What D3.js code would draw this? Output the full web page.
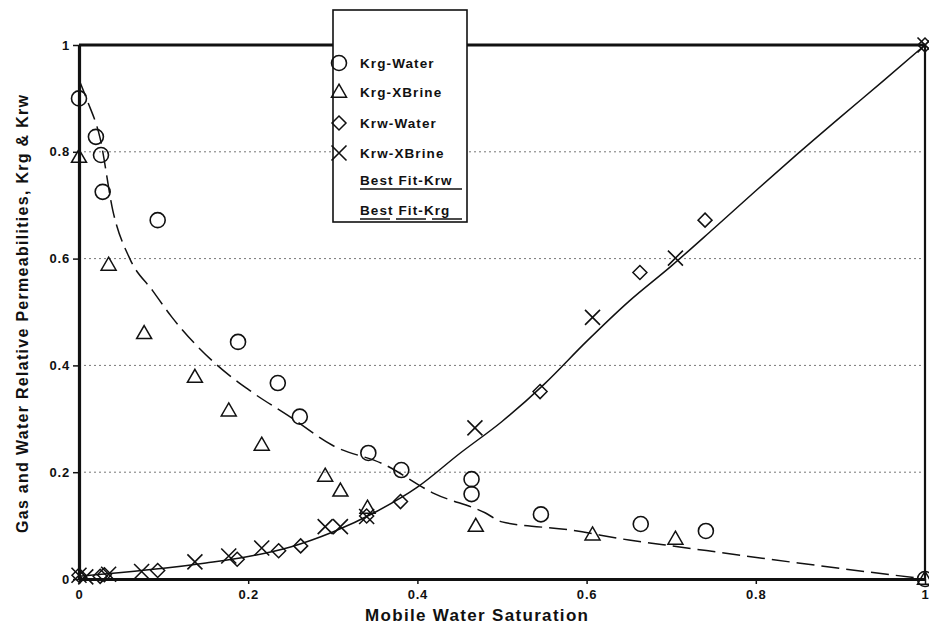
<!DOCTYPE html>
<html><head><meta charset="utf-8">
<script src="https://cdn.jsdelivr.net/npm/d3@7"></script>
<style>body{margin:0;background:#fff}svg{display:block}text{font-family:"Liberation Sans",Arial,sans-serif;font-weight:bold;fill:#111}</style>
</head><body><svg id="c" width="929" height="625"></svg>
<script>
// ---- data ----
const krgWaterX = [0, 0.02, 0.026, 0.028, 0.093, 0.188, 0.235, 0.261, 0.342, 0.381, 0.464, 0.464, 0.546, 0.664, 0.741, 1];
const krgWaterY = [0.90, 0.828, 0.794, 0.725, 0.672, 0.444, 0.367, 0.304, 0.236, 0.204, 0.187, 0.159, 0.121, 0.103, 0.090, 0];
const krgBrineX = [0, 0.035, 0.077, 0.137, 0.177, 0.216, 0.291, 0.309, 0.341, 0.469, 0.607, 0.705, 1];
const krgBrineY = [0.79, 0.588, 0.46, 0.378, 0.315, 0.251, 0.193, 0.165, 0.133, 0.099, 0.083, 0.075, 0];
const krwWaterX = [0, 0.025, 0.03, 0.093, 0.187, 0.236, 0.262, 0.34, 0.38, 0.545, 0.663, 0.74, 1];
const krwWaterY = [0.007, 0.005, 0.008, 0.016, 0.037, 0.053, 0.062, 0.118, 0.145, 0.351, 0.574, 0.672, 1];
const krwBrineX = [0, 0.008, 0.035, 0.074, 0.137, 0.177, 0.216, 0.291, 0.309, 0.34, 0.468, 0.607, 0.705, 1];
const krwBrineY = [0.007, 0.004, 0.009, 0.014, 0.032, 0.043, 0.058, 0.098, 0.098, 0.117, 0.283, 0.49, 0.601, 1];
const fitKrwX = [0, 0.05, 0.1, 0.15, 0.2, 0.25, 0.3, 0.35, 0.4, 0.45, 0.5, 0.55, 0.6, 0.65, 0.7, 0.75, 0.8, 0.85, 0.9, 0.95, 1];
const fitKrwY = [0.005, 0.012, 0.02, 0.03, 0.042, 0.06, 0.088, 0.125, 0.172, 0.235, 0.295, 0.365, 0.445, 0.52, 0.586, 0.656, 0.727, 0.797, 0.865, 0.932, 1];
const fitKrgX = [0, 0.01, 0.025, 0.04, 0.06, 0.087, 0.11, 0.16, 0.2, 0.25, 0.3, 0.36, 0.42, 0.48, 0.5, 0.58, 0.65, 0.71, 0.85, 1];
const fitKrgY = [0.935, 0.895, 0.825, 0.69, 0.60, 0.54, 0.49, 0.405, 0.355, 0.303, 0.25, 0.215, 0.16, 0.124, 0.107, 0.092, 0.073, 0.06, 0.03, 0];
const tickValues = [0, 0.2, 0.4, 0.6, 0.8, 1];
const gridValues = [0.2, 0.4, 0.6, 0.8];
const legendLabels = ["Krg-Water", "Krg-XBrine", "Krw-Water", "Krw-XBrine", "Best Fit-Krw", "Best Fit-Krg"];
const xTitle = "Mobile Water Saturation";
const yTitle = "Gas and Water Relative Permeabilities, Krg & Krw";

// ---- drawing ----
const svg = d3.select("#c");
const ink = "#111";
const x = d3.scaleLinear().domain([0, 1]).range([79, 925]);
const y = d3.scaleLinear().domain([0, 1]).range([579, 45]);
const zip = (a, b) => a.map((v, i) => [v, b[i]]);

// gridlines
svg.append("g").selectAll("line").data(gridValues).join("line")
  .attr("x1", x(0)).attr("x2", x(1)).attr("y1", d => y(d)).attr("y2", d => y(d))
  .attr("stroke", "#777").attr("stroke-width", 1).attr("stroke-dasharray", "2,3");

function circlePath(r) { return `M${r},0A${r},${r} 0 1,1 ${-r},0A${r},${r} 0 1,1 ${r},0Z`; }
function triPath(w, h) { return `M0,${-h*0.6}L${w/2},${h*0.4}L${-w/2},${h*0.4}Z`; }
function diaPath(r) { return `M0,${-r}L${r},0L0,${r}L${-r},0Z`; }
function xPath(r) { return `M${-r},${-r}L${r},${r}M${-r},${r}L${r},${-r}`; }
const shapes = [
  {path: circlePath(7.5), sw: 1.6},
  {path: triPath(15, 13), sw: 1.5},
  {path: diaPath(7), sw: 1.5},
  {path: xPath(7.5), sw: 1.6}
];

// fit lines
const line = d3.line().x(d => x(d[0])).y(d => y(d[1])).curve(d3.curveMonotoneX);
svg.append("path").datum(zip(fitKrwX, fitKrwY)).attr("d", line)
  .attr("fill", "none").attr("stroke", ink).attr("stroke-width", 1.5);
svg.append("path").datum(zip(fitKrgX, fitKrgY)).attr("d", line)
  .attr("fill", "none").attr("stroke", ink).attr("stroke-width", 1.5).attr("stroke-dasharray", "18,7");

// scatter series
const series = [[krgWaterX, krgWaterY], [krgBrineX, krgBrineY], [krwWaterX, krwWaterY], [krwBrineX, krwBrineY]];
series.forEach((s, i) => {
  svg.append("g").selectAll("path").data(zip(s[0], s[1])).join("path")
    .attr("transform", d => `translate(${x(d[0])},${y(d[1])})`)
    .attr("d", shapes[i].path).attr("fill", "none").attr("stroke", ink).attr("stroke-width", shapes[i].sw);
});

// axes
const fmt = d3.format("~g");
const gy = svg.append("g").attr("transform", `translate(${x(0)},0)`)
  .call(d3.axisLeft(y).tickValues(tickValues).tickFormat(fmt).tickSize(6).tickSizeOuter(0).tickPadding(3));
const gx = svg.append("g").attr("transform", `translate(0,${y(0)})`)
  .call(d3.axisBottom(x).tickValues(tickValues).tickFormat(fmt).tickSize(5).tickSizeOuter(0).tickPadding(6));
[gx, gy].forEach(g => {
  g.select(".domain").attr("stroke", ink).attr("stroke-width", 3.2);
  g.selectAll(".tick line").attr("stroke", ink).attr("stroke-width", 1.5);
  g.selectAll(".tick text").attr("font-size", 13).attr("font-weight", "bold").attr("letter-spacing", "0.8px")
    .attr("font-family", "'Liberation Sans',Arial,sans-serif").attr("fill", ink);
});
// frame top and right
svg.append("line").attr("x1", x(0)).attr("x2", x(1)).attr("y1", y(1)).attr("y2", y(1))
  .attr("stroke", ink).attr("stroke-width", 3);
svg.append("line").attr("x1", x(1)).attr("x2", x(1)).attr("y1", y(1)).attr("y2", y(0))
  .attr("stroke", ink).attr("stroke-width", 2.2);

// titles
svg.append("text").attr("x", 476.5).attr("y", 621).attr("text-anchor", "middle")
  .attr("font-size", 17).attr("textLength", 223).attr("lengthAdjust", "spacing").text(xTitle);
svg.append("text").attr("transform", "translate(28,314) rotate(-90)").attr("text-anchor", "middle")
  .attr("font-size", 16).attr("textLength", 438).attr("lengthAdjust", "spacing").text(yTitle);

// legend
const lg = svg.append("g");
lg.append("rect").attr("x", 333).attr("y", 10).attr("width", 134).attr("height", 212)
  .attr("fill", "#fff").attr("stroke", ink).attr("stroke-width", 1.6);
const rowY = [63, 92, 123, 153, 180, 210];
legendLabels.forEach((t, i) => {
  lg.append("text").attr("x", 360).attr("y", rowY[i]).attr("dy", "0.35em")
    .attr("font-size", 13.5).attr("letter-spacing", "1.1px").text(t);
  if (i < 4) {
    lg.append("path").attr("transform", `translate(339,${rowY[i]})`).attr("d", shapes[i].path)
      .attr("fill", "none").attr("stroke", ink).attr("stroke-width", shapes[i].sw);
  } else {
    lg.append("line").attr("x1", 360).attr("x2", 462).attr("y1", rowY[i] + 9).attr("y2", rowY[i] + 9)
      .attr("stroke", ink).attr("stroke-width", 1.4).attr("stroke-dasharray", i === 5 ? "30,6" : null);
  }
});
</script></body></html>
